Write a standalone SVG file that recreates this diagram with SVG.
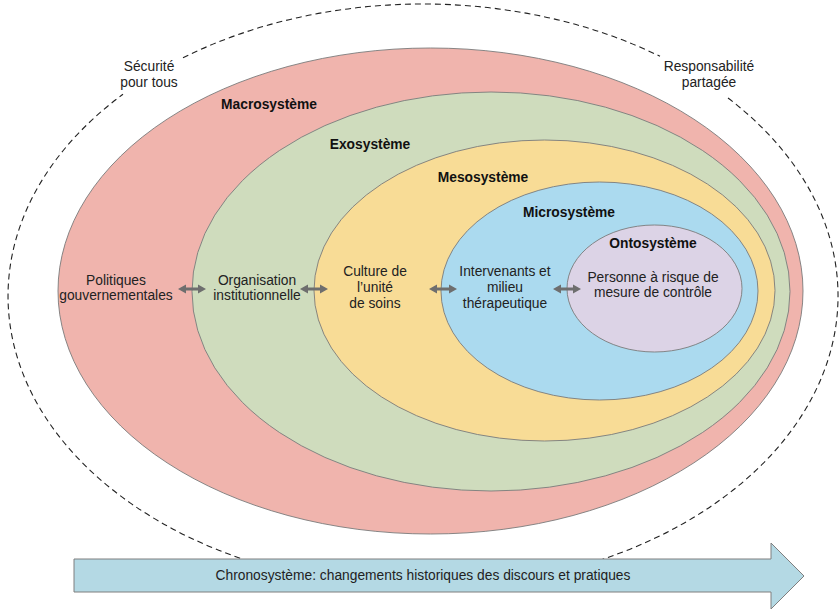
<svg xmlns="http://www.w3.org/2000/svg" xmlns:xlink="http://www.w3.org/1999/xlink" width="840" height="609" viewBox="0 0 840 609">
<style>
  .ell { stroke: #7a7a7a; stroke-width: 0.9; }
  .t { font-family: "Liberation Sans", Arial, sans-serif; font-size: 13.8px; fill: #222; text-anchor: middle; }
  .b { font-weight: bold; fill: #111; }
  .dash { fill: none; stroke: #222; stroke-width: 1.1; stroke-dasharray: 6 4; }
  .dbl { fill: #6e6e6e; }
</style>
<defs>
  <path id="dbl" d="M0 0 L8 -4.5 L8 -1.5 L20 -1.5 L20 -4.5 L28 0 L20 4.5 L20 1.5 L8 1.5 L8 4.5 Z"/>
</defs>
<rect width="840" height="609" fill="#fff"/>

<g id="boundary">
  <path class="dash" d="M183 57.8 A415 292 0 0 1 660 56.3"/>
  <path class="dash" d="M728 98 A415 292 0 1 1 123 94.3"/>
  <text class="t" x="149" y="71">Sécurité</text>
  <text class="t" x="149" y="87">pour tous</text>
  <text class="t" x="709" y="71">Responsabilité</text>
  <text class="t" x="709" y="87">partagée</text>
</g>

<g id="macrosysteme">
  <ellipse class="ell" cx="430.5" cy="291" rx="372.5" ry="243" fill="#f0b4ad"/>
  <text class="t b" x="269" y="109">Macrosystème</text>
  <text class="t" x="116" y="285">Politiques</text>
  <text class="t" x="116" y="300">gouvernementales</text>
</g>

<g id="exosysteme">
  <ellipse class="ell" cx="491" cy="291.5" rx="299" ry="199.5" fill="#cfdcbd"/>
  <text class="t b" x="370" y="149">Exosystème</text>
  <text class="t" x="257" y="285">Organisation</text>
  <text class="t" x="257" y="300">institutionnelle</text>
</g>

<g id="mesosysteme">
  <ellipse class="ell" cx="544.5" cy="290.5" rx="230.5" ry="150.5" fill="#f8dc96"/>
  <text class="t b" x="483" y="182">Mesosystème</text>
  <text class="t" x="375" y="276">Culture de</text>
  <text class="t" x="375" y="292">l’unité</text>
  <text class="t" x="375" y="308">de soins</text>
</g>

<g id="microsysteme">
  <ellipse class="ell" cx="599.5" cy="291" rx="158.5" ry="109" fill="#abdaef"/>
  <text class="t b" x="569" y="217">Microsystème</text>
  <text class="t" x="505" y="276">Intervenants et</text>
  <text class="t" x="505" y="292">milieu</text>
  <text class="t" x="505" y="308">thérapeutique</text>
</g>

<g id="ontosysteme">
  <ellipse class="ell" cx="654.5" cy="288.5" rx="87.5" ry="63.5" fill="#dcd3e6"/>
  <text class="t b" x="653" y="248">Ontosystème</text>
  <text class="t" x="653" y="282">Personne à risque de</text>
  <text class="t" x="653" y="297">mesure de contrôle</text>
</g>

<g id="connectors">
  <use xlink:href="#dbl" class="dbl" x="178" y="289"/>
  <use xlink:href="#dbl" class="dbl" x="300" y="289"/>
  <use xlink:href="#dbl" class="dbl" x="429" y="289"/>
  <use xlink:href="#dbl" class="dbl" x="553" y="289"/>
</g>

<g id="chronosysteme">
  <path d="M74 559 L771 559 L771 543 L804 576 L771 609 L771 592 L74 592 Z" fill="#b4d9e4" stroke="#7f7f7f" stroke-width="1"/>
  <text class="t" x="423" y="580">Chronosystème: changements historiques des discours et pratiques</text>
</g>
</svg>
